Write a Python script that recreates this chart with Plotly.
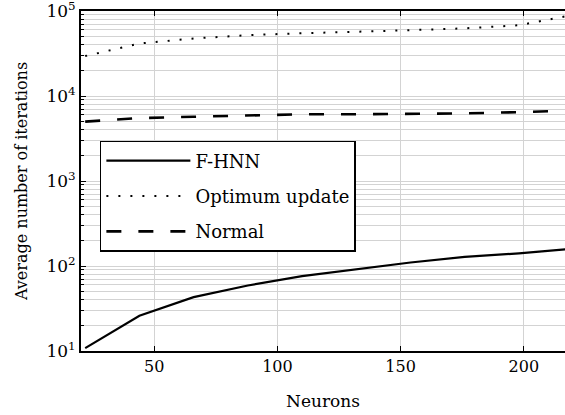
import plotly.graph_objects as go

neurons = [22, 44, 66, 88, 110, 132, 154, 176, 198, 220]
fhnn = [10.8, 26, 43, 59, 76, 91, 110, 128, 141, 160]
optimum = [29500, 41500, 47500, 52000, 54700, 56500, 59500, 62500, 68000, 90000]
normal = [5000, 5500, 5700, 5900, 6100, 6100, 6150, 6250, 6450, 6750]
y_tickvals = [10, 100, 1000, 10000, 100000]
y_ticktext = ["10<sup>1</sup>", "10<sup>2</sup>", "10<sup>3</sup>", "10<sup>4</sup>", "10<sup>5</sup>"]
x_tickvals = [50, 100, 150, 200]

FONT = "DejaVu Serif"

fig = go.Figure()
fig.add_trace(go.Scatter(x=neurons, y=fhnn, mode="lines", name="F-HNN",
                         line=dict(color="black", width=2.2), legendgroup="a"))
fig.add_trace(go.Scatter(x=neurons, y=optimum, mode="lines", name="Optimum update",
                         line=dict(color="black", width=2, dash="2px,10px"), legendgroup="b"))
fig.add_trace(go.Scatter(x=neurons, y=normal, mode="lines", name="Normal",
                         line=dict(color="black", width=2.6, dash="15px,17px"), legendgroup="c"))

grid = "#d3d3d3"
fig.update_layout(
    width=565, height=415,
    margin=dict(l=81, r=0, t=11, b=64),
    paper_bgcolor="white", plot_bgcolor="white",
    font=dict(family=FONT, color="black", size=16),
    showlegend=True,
    legend=dict(x=0.039, y=0.618, xanchor="left", yanchor="top",
                bgcolor="white", bordercolor="black", borderwidth=1.5,
                font=dict(family=FONT, size=18),
                traceorder="grouped", tracegroupgap=9, itemwidth=84),
    xaxis=dict(range=[20.3, 216.7], tickvals=x_tickvals, automargin=False,
               showgrid=True, gridcolor=grid, gridwidth=1,
               showline=True, linecolor="black", linewidth=2, mirror="ticks",
               ticks="inside", ticklen=5, tickcolor="black",
               tickfont=dict(size=16), zeroline=False,
               title=dict(text="Neurons", font=dict(size=17), standoff=20)),
    yaxis=dict(type="log", range=[1, 5], tickvals=y_tickvals, ticktext=y_ticktext,
               automargin=False, ticklabeloverflow="allow",
               showgrid=True, gridcolor=grid, gridwidth=1,
               minor=dict(dtick="D1", showgrid=True, gridcolor=grid, gridwidth=1,
                          ticks="inside", ticklen=3, tickcolor="black"),
               showline=True, linecolor="black", linewidth=2, mirror=False,
               ticks="inside", ticklen=5, tickcolor="black",
               tickfont=dict(size=17), zeroline=False,
               title=dict(text="Average number of iterations", font=dict(size=16))),
)

fig.write_html("out.html", config={"displayModeBar": False},
               post_script="document.body.style.margin='0';")
